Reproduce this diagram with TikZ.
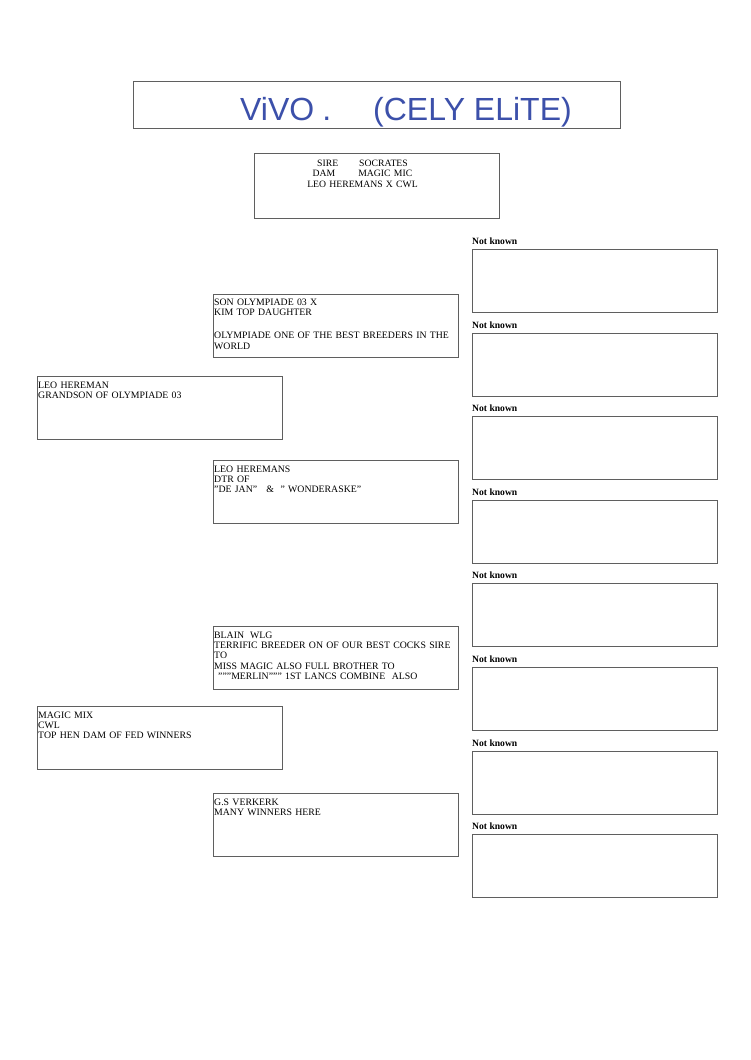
\documentclass[tikz,border=0pt]{standalone}
\usepackage{fontspec}
\setmainfont{Liberation Serif}
\newfontfamily\handfont{Liberation Sans}
\definecolor{boxline}{RGB}{95,95,95}
\definecolor{ink}{RGB}{60,80,170}
\begin{document}
\begin{tikzpicture}[x=1pt,y=-1pt,
  pbox/.style={draw=boxline, line width=0.8pt, rectangle, inner sep=0pt, outer sep=0pt,
               anchor=north west, minimum width=245pt, minimum height=63pt},
  txt/.style={anchor=base west, inner sep=0pt, align=left, text width=260pt,
              font=\fontsize{9.8}{10.4}\selectfont},
  nklab/.style={anchor=base west, inner sep=0pt, font=\fontsize{9.6}{10}\selectfont\bfseries},
]
\useasboundingbox (0,0) rectangle (750,1060);
\fill[white] (0,0) rectangle (750,1060);

% title
\node[draw=boxline, line width=0.8pt, inner sep=0pt, outer sep=0pt, anchor=north west,
      minimum width=487pt, minimum height=47pt] (title) at (133,81) {};
\node[anchor=base west, inner sep=0pt, text=ink, font=\handfont\fontsize{32}{32}\selectfont]
      (titletxt) at ([xshift=107pt,yshift=-39pt]title.north west) {ViVO\hspace{8pt}.\hspace{42pt}(CELY ELiTE)};

% info box
\node[pbox, minimum height=65pt] (info) at (254,153) {};
\node[anchor=base, inner sep=0pt, align=center, text width=200pt, font=\fontsize{9.7}{10.6}\selectfont]
      (infotxt) at ([xshift=108.5pt,yshift=-13pt]info.north west)
      {SIRE\hspace{21pt}SOCRATES\\DAM\hspace{23pt}MAGIC MIC\\LEO HEREMANS X CWL};

% left column
\node[pbox] (sire) at (37,376) {};
\node[txt] (siretxt) at ([xshift=1pt,yshift=-12pt]sire.north west)
      {LEO HEREMAN\\GRANDSON OF OLYMPIADE 03};
\node[pbox] (dam) at (37,706) {};
\node[txt] (damtxt) at ([xshift=1pt,yshift=-12pt]dam.north west)
      {MAGIC MIX\\CWL\\TOP HEN DAM OF FED WINNERS};

% middle column
\node[pbox] (ss) at (213,294) {};
\node[txt] (sstxt) at ([xshift=1pt,yshift=-11pt]ss.north west)
      {SON OLYMPIADE 03 X\\KIM TOP DAUGHTER\\[13pt]OLYMPIADE ONE OF THE BEST BREEDERS IN THE\\WORLD};
\node[pbox] (sd) at (213,460) {};
\node[txt] (sdtxt) at ([xshift=1pt,yshift=-12pt]sd.north west)
      {LEO HEREMANS\\DTR OF\\"DE JAN"\hspace{6pt} \& \ " WONDERASKE"};
\node[pbox] (ds) at (213,626) {};
\node[txt] (dstxt) at ([xshift=1pt,yshift=-12pt]ds.north west)
      {BLAIN\hspace{6pt}WLG\\TERRIFIC BREEDER ON OF OUR BEST COCKS SIRE\\TO\\MISS MAGIC ALSO FULL BROTHER TO\\\hspace{4pt}"""MERLIN""" 1ST LANCS COMBINE\ \ ALSO};
\node[pbox] (dd) at (213,793) {};
\node[txt] (ddtxt) at ([xshift=1pt,yshift=-12pt]dd.north west)
      {G.S VERKERK\\MANY WINNERS HERE};

% right column
\foreach \i/\y in {1/249,2/333,3/416,4/500,5/583,6/667,7/751,8/834}{
  \node[pbox] (r\i) at (472,\y) {};
  \node[nklab] (r\i lab) at ([yshift=5pt]r\i.north west) {Not known};
}
\end{tikzpicture}
\end{document}
